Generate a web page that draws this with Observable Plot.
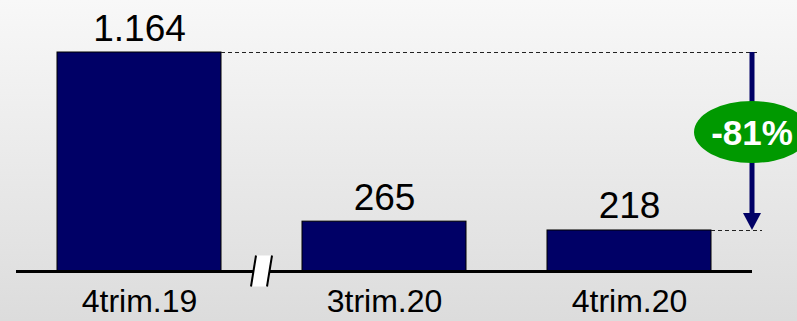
<!DOCTYPE html>
<html>
<head>
<meta charset="utf-8">
<script src="https://cdn.jsdelivr.net/npm/d3@7"></script>
<script src="https://cdn.jsdelivr.net/npm/@observablehq/plot@0.6"></script>
<style>
  html, body { margin: 0; padding: 0; background: #e6e6e6; }
  #chart svg { display: block; }
</style>
</head>
<body>
<div id="chart"></div>
<script>
const categories = ["4trim.19", "3trim.20", "4trim.20"];
const values = [1164, 265, 218];

const W = 797, H = 321;
const navy = "#000066";
const font = "Arial, 'Liberation Sans', sans-serif";
const fmt = d3.formatLocale({decimal: ",", thousands: ".", grouping: [3], currency: ["", ""]}).format(",");

const data = categories.map((c, i) => ({cat: c, value: values[i]}));
const change = Math.round((values[values.length - 1] / values[0] - 1) * 100);

const plot = Plot.plot({
  width: W,
  height: H,
  marginLeft: 16,
  marginRight: 45,
  marginTop: 0,
  marginBottom: 50,
  style: {
    background: "linear-gradient(to bottom, #f8f8f8, #dcdcdc)",
    fontFamily: font,
    fontSize: "32px",
    color: "#000",
    overflow: "visible"
  },
  x: {domain: categories, range: [57, 712], paddingInner: 0.33, paddingOuter: 0, tickSize: 0, tickPadding: 18, label: null},
  y: {domain: [0, values[0]], range: [271, 52], axis: null},
  marks: [
    Plot.barY(data, {x: "cat", y: "value", fill: navy, stroke: "#000", strokeWidth: 1}),
    Plot.ruleY([0], {stroke: "#000", strokeWidth: 3}),
    Plot.text(data, {x: "cat", y: "value", text: d => fmt(d.value), lineAnchor: "bottom", dy: -12, fontSize: 37, fill: "#000"})
  ]
});

document.getElementById("chart").appendChild(plot);

// decorations positioned from the plot's own scales
const sx = plot.scale("x"), sy = plot.scale("y");
const bw = sx.bandwidth;
const svg = d3.select(plot);
const g = svg.append("g");
const xRightEdge = W - 45;           // frame right edge
const y0 = sy.apply(0);
const yTop = sy.apply(values[0]);
const yLast = sy.apply(values[values.length - 1]);

// dashed reference lines
g.append("line")
  .attr("x1", sx.apply(categories[0]) + bw).attr("x2", xRightEdge + 8)
  .attr("y1", yTop + 0.5).attr("y2", yTop + 0.5)
  .attr("stroke", "#222").attr("stroke-width", 1.2).attr("stroke-dasharray", "4,3");
g.append("line")
  .attr("x1", sx.apply(categories[2]) + bw).attr("x2", xRightEdge + 10)
  .attr("y1", yLast + 0.5).attr("y2", yLast + 0.5)
  .attr("stroke", "#222").attr("stroke-width", 1.2).attr("stroke-dasharray", "4,3");

// arrow
const headL = 17, headW = 9;
g.append("rect")
  .attr("x", xRightEdge - 2.5).attr("width", 5)
  .attr("y", yTop).attr("height", yLast - headL - yTop + 1)
  .attr("fill", navy);
g.append("path")
  .attr("d", `M${xRightEdge - headW},${yLast - headL}L${xRightEdge + headW},${yLast - headL}L${xRightEdge},${yLast}Z`)
  .attr("fill", navy);

// green badge
const cy = (yTop + yLast) / 2 - 9;
g.append("ellipse")
  .attr("cx", xRightEdge).attr("cy", cy).attr("rx", 58).attr("ry", 31)
  .attr("fill", "#009900");
g.append("text")
  .attr("x", xRightEdge).attr("y", cy).attr("dy", "0.36em")
  .attr("text-anchor", "middle")
  .attr("font-family", font).attr("font-weight", "bold").attr("font-size", 35)
  .attr("fill", "#fff")
  .text(`${change}%`);

// axis break mark between first and second category
const bx = (sx.apply(categories[0]) + bw + sx.apply(categories[1])) / 2;
const by = y0;
g.append("path")
  .attr("d", `M${bx - 5.5},${by - 15.5}L${bx + 10.5},${by - 15.5}L${bx + 5.5},${by + 15.5}L${bx - 10.5},${by + 15.5}Z`)
  .attr("fill", "#fff");
g.append("line")
  .attr("x1", bx - 5.5).attr("y1", by - 15.5).attr("x2", bx - 10.5).attr("y2", by + 15.5)
  .attr("stroke", "#000").attr("stroke-width", 2);
g.append("line")
  .attr("x1", bx + 10.5).attr("y1", by - 15.5).attr("x2", bx + 5.5).attr("y2", by + 15.5)
  .attr("stroke", "#000").attr("stroke-width", 2);
</script>
</body>
</html>
